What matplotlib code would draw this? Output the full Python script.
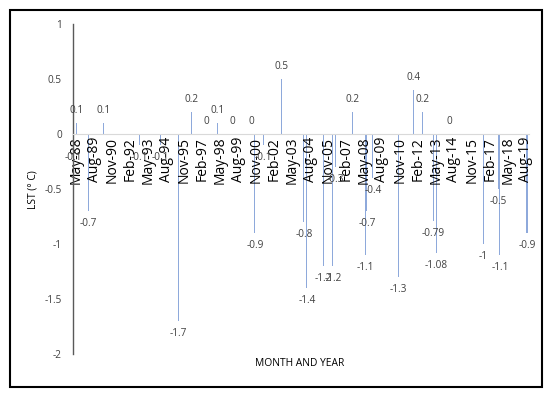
import matplotlib
matplotlib.use('Agg')
import matplotlib.pyplot as plt
import matplotlib.patches as patches
import pandas as pd

# anomaly dates and LST values
dates = ['1988-02-15', '1988-05-01', '1989-03-01', '1990-03-15', '1992-10-01',
         '1994-03-01', '1995-06-15', '1996-05-15', '1997-06-01', '1998-03-01',
         '1999-03-01', '2000-07-15', '2000-10-01', '2001-05-01', '2002-08-15',
         '2004-03-01', '2004-05-15', '2005-07-15', '2006-03-01', '2006-05-15',
         '2007-07-15', '2008-06-15', '2008-07-15', '2008-12-15', '2010-09-15',
         '2011-10-15', '2012-06-01', '2013-03-01', '2013-05-15', '2014-04-15',
         '2016-08-15', '2017-09-01', '2017-10-15', '2019-09-01']
values = [-0.1, 0.1, -0.7, 0.1, -0.1,
          -0.1, -1.7, 0.2, 0, 0.1,
          0, 0, -0.9, -0.1, 0.5,
          -0.8, -1.4, -1.2, -1.2, -0.3,
          0.2, -1.1, -0.7, -0.4, -1.3,
          0.4, 0.2, -0.79, -1.08, 0,
          -1.0, -0.5, -1.1, -0.9]
tick_labels = ['May-88', 'Aug-89', 'Nov-90', 'Feb-92', 'May-93', 'Aug-94', 'Nov-95',
               'Feb-97', 'May-98', 'Aug-99', 'Nov-00', 'Feb-02', 'May-03', 'Aug-04',
               'Nov-05', 'Feb-07', 'May-08', 'Aug-09', 'Nov-10', 'Feb-12', 'May-13',
               'Aug-14', 'Nov-15', 'Feb-17', 'May-18', 'Aug-19']
y_ticks = [1, 0.5, 0, -0.5, -1, -1.5, -2]

plt.rcParams['font.family'] = ['Open Sans', 'DejaVu Sans']

x = pd.to_datetime(dates)
tick_pos = pd.to_datetime(tick_labels, format='%b-%y')

fig = plt.figure(figsize=(5.5, 3.96), dpi=100)
ax = fig.add_axes([0.1327, 0.1061, 0.829, 0.8333])

ax.bar(x, values, width=26, color='#8EA9DB', edgecolor='none')

for xi, v in zip(x, values):
    lab = '%g' % v
    if v >= 0:
        ax.annotate(lab, (xi, v), xytext=(0, 5), textcoords='offset points',
                    ha='center', va='bottom', fontsize=7.2, color='#404040')
    else:
        ax.annotate(lab, (xi, v), xytext=(0, -5), textcoords='offset points',
                    ha='center', va='top', fontsize=7.2, color='#404040')

ax.set_xlim(pd.Timestamp('1988-02-10'), pd.Timestamp('2019-10-20'))
ax.set_ylim(-2, 1)
ax.set_xticks(tick_pos)
ax.set_xticklabels(tick_labels, fontsize=7.2, color='#404040')
ax.set_yticks(y_ticks)
ax.set_yticklabels(['%g' % t for t in y_ticks], fontsize=7.2, color='#404040')
ax.tick_params(axis='both', length=0)
ax.tick_params(axis='y', pad=8)
ax.tick_params(axis='x', pad=2, labelrotation=90)

ax.spines['top'].set_visible(False)
ax.spines['right'].set_visible(False)
ax.spines['bottom'].set_position(('data', 0))
ax.spines['bottom'].set_color('#D9D9D9')
ax.spines['left'].set_color('#595959')
ax.spines['left'].set_linewidth(1)

fig.text(33 / 550, 1 - 190 / 396, 'LST (° C)', rotation=90, ha='center', va='center',
         fontsize=7.4, color='#000000')
fig.text(300 / 550, 1 - 363 / 396, 'MONTH AND YEAR', ha='center', va='center',
         fontsize=7.4, color='#000000')

# outer border of the chart
border = patches.Rectangle((10 / 550, 9 / 396), 532 / 550, 377 / 396, transform=fig.transFigure,
                           fill=False, edgecolor='black', linewidth=1.5)
fig.patches.append(border)

fig.savefig('out.png', dpi=100)
